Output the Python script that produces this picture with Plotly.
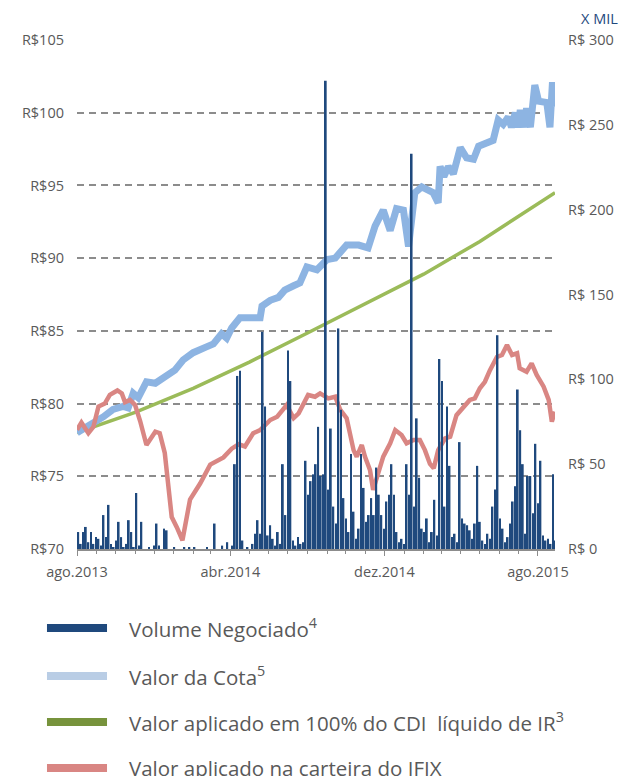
import pandas as pd
import plotly.graph_objects as go

# ---------------- data ----------------
# Volume negociado (R$ mil), one bar every 4 days starting 2013-08-03
volume_start = "2013-08-03"
volume_values = [
    10, 3, 10, 13, 4, 10, 3, 7, 6, 2, 20, 7, 26, 3, 1, 5, 16, 7, 1, 3,
    17, 10, 1, 33, 2, 16, 0, 0, 1, 0, 2, 15, 2, 0, 12, 11, 0, 0, 1, 0,
    0, 0, 1, 0, 1, 0, 1, 0, 0, 0, 0, 1, 0, 0, 15, 0, 0, 2, 0, 4,
    0, 2, 50, 102, 105, 5, 0, 1, 0, 3, 9, 17, 9, 128, 84, 8, 14, 6, 2, 10,
    3, 50, 20, 117, 99, 5, 2, 7, 3, 4, 52, 32, 40, 44, 50, 72, 43, 44, 276, 35,
    71, 25, 15, 130, 82, 30, 18, 10, 56, 22, 6, 12, 56, 36, 16, 20, 30, 20, 48, 32,
    20, 12, 28, 32, 50, 32, 10, 4, 6, 3, 50, 32, 233, 25, 77, 42, 12, 10, 18, 4,
    10, 29, 8, 112, 99, 25, 84, 49, 7, 9, 4, 63, 18, 15, 14, 11, 6, 15, 49, 16,
    5, 3, 9, 6, 25, 35, 126, 18, 12, 4, 7, 15, 28, 37, 94, 70, 50, 9, 43, 43,
    21, 62, 27, 52, 8, 5, 6, 3, 44, 5,
]

cota_dates = [
    "2013-08-01", "2013-08-27", "2013-09-12", "2013-09-27", "2013-10-13", "2013-10-21",
    "2013-10-29", "2013-11-06", "2013-11-19", "2013-12-03", "2013-12-21", "2014-01-03",
    "2014-01-16", "2014-02-01", "2014-02-22", "2014-03-05", "2014-03-18", "2014-03-26",
    "2014-04-03", "2014-04-16", "2014-05-02", "2014-05-18", "2014-05-21", "2014-06-03",
    "2014-06-16", "2014-06-26", "2014-07-10", "2014-07-20", "2014-07-31", "2014-08-16",
    "2014-09-01", "2014-09-14", "2014-10-02", "2014-10-21", "2014-11-05", "2014-11-16",
    "2014-11-29", "2014-12-10", "2014-12-20", "2014-12-31", "2015-01-08", "2015-01-13",
    "2015-01-18", "2015-01-29", "2015-02-08", "2015-02-16", "2015-02-24", "2015-02-27",
    "2015-03-05", "2015-03-12", "2015-03-20", "2015-03-31", "2015-04-10", "2015-04-21",
    "2015-04-29", "2015-05-12", "2015-05-22", "2015-05-30", "2015-06-07", "2015-06-15",
    "2015-06-20", "2015-06-26", "2015-07-01", "2015-07-04", "2015-07-09", "2015-07-14",
    "2015-07-20", "2015-07-27", "2015-08-02", "2015-08-15", "2015-08-20", "2015-08-24",
    "2015-08-27",
]
cota_values = [
    78.0, 78.6, 79.1, 79.6, 79.8, 79.7,
    80.7, 80.4, 81.5, 81.4, 82.0, 82.3,
    83.0, 83.5, 83.9, 84.1, 84.8, 84.5,
    85.2, 85.9, 85.9, 85.9, 86.7, 87.1,
    87.3, 87.8, 88.1, 88.3, 89.4, 89.2,
    89.9, 90.0, 90.9, 90.9, 90.7, 92.2,
    93.3, 91.9, 93.4, 93.3, 90.8, 92.9,
    94.5, 94.9, 94.6, 94.5, 93.8, 96.3,
    95.6, 96.3, 95.8, 97.6, 96.9, 96.8,
    97.7, 98.0, 98.1, 99.5, 99.2, 99.7,
    99.0, 100.0, 99.0, 100.2, 99.0, 100.3,
    99.0, 101.9, 100.8, 100.7, 99.0, 102.1,
    100.4,
]

cdi_dates = ["2013-08-01", "2013-11-01", "2014-02-01", "2014-05-01", "2014-08-01",
             "2014-11-01", "2015-02-01", "2015-05-01", "2015-08-28"]
cdi_values = [78.0, 79.4, 81.05, 82.85, 84.85, 86.85, 88.9, 91.15, 94.5]

ifix_dates = [
    "2013-08-01", "2013-08-08", "2013-08-19", "2013-08-27", "2013-09-04", "2013-09-14",
    "2013-09-22", "2013-10-04", "2013-10-11", "2013-10-16", "2013-10-24", "2013-11-01",
    "2013-11-09", "2013-11-19", "2013-12-03", "2013-12-10", "2013-12-18", "2013-12-29",
    "2014-01-06", "2014-01-15", "2014-01-27", "2014-02-12", "2014-02-28", "2014-03-21",
    "2014-04-03", "2014-04-14", "2014-04-24", "2014-05-02", "2014-05-07", "2014-05-18",
    "2014-06-03", "2014-06-14", "2014-06-29", "2014-07-10", "2014-07-18", "2014-08-02",
    "2014-08-13", "2014-08-21", "2014-09-03", "2014-09-14", "2014-09-22", "2014-10-02",
    "2014-10-13", "2014-10-18", "2014-10-26", "2014-10-31", "2014-11-08", "2014-11-13",
    "2014-11-21", "2014-11-29", "2014-12-10", "2014-12-18", "2014-12-28", "2015-01-05",
    "2015-01-16", "2015-01-26", "2015-02-03", "2015-02-11", "2015-02-17", "2015-02-24",
    "2015-03-07", "2015-03-15", "2015-03-25", "2015-04-05", "2015-04-15", "2015-04-23",
    "2015-05-01", "2015-05-09", "2015-05-17", "2015-05-28", "2015-06-05", "2015-06-13",
    "2015-06-21", "2015-06-29", "2015-07-03", "2015-07-14", "2015-07-22", "2015-07-30",
    "2015-08-10", "2015-08-18", "2015-08-23", "2015-08-28",
]
ifix_values = [
    78.2, 78.7, 77.96, 78.4, 79.8, 80.0,
    80.6, 80.9, 80.7, 80.1, 80.25, 79.9,
    78.8, 77.15, 78.07, 77.96, 76.6, 72.2,
    71.5, 70.6, 73.4, 74.5, 75.8, 76.3,
    76.9, 77.2, 77.05, 77.7, 77.96, 78.18,
    78.87, 79.1, 79.9, 79.0, 79.33, 80.59,
    80.47, 80.7, 80.36, 80.47, 79.56, 79.0,
    76.8, 76.35, 77.15, 76.35, 75.43, 74.06,
    75.2, 76.35, 77.27, 78.18, 77.84, 77.27,
    77.5, 77.5, 76.8, 75.85, 75.55, 76.8,
    77.6, 77.72, 79.2, 79.8, 80.25, 80.36,
    81.05, 81.5, 82.3, 83.2, 83.34, 84.03,
    83.34, 83.46, 82.43, 82.19, 82.77, 81.97,
    81.16, 80.25, 78.76, 79.44,
]

left_ticks = [70, 75, 80, 85, 90, 95, 100, 105]
left_labels = ["R$70", "R$75", "R$80", "R$85", "R$90", "R$95", "R$100", "R$105"]
right_ticks = [0, 50, 100, 150, 200, 250, 300]
right_labels = ["R$ 0", "R$ 50", "R$ 100", "R$ 150", "R$ 200", "R$ 250", "R$ 300"]
x_ticks = ["2013-08-01", "2014-04-01", "2014-12-01", "2015-08-01"]
x_labels = ["ago.2013", "abr.2014", "dez.2014", "ago.2015"]

legend_names = ["Volume Negociado<sup>4</sup>", "Valor da Cota<sup>5</sup>",
                "Valor aplicado em 100% do CDI  líquido de IR<sup>3</sup>",
                "Valor aplicado na carteira do IFIX"]
legend_colors = ["#1F497D", "#B9CDE5", "#77933C", "#D98683"]

# ---------------- figure ----------------
FONT = "Open Sans"
GREY = "#595959"

volume_dates = pd.date_range(volume_start, periods=len(volume_values), freq="4D")

fig = go.Figure()
fig.add_trace(go.Scatter(x=cdi_dates, y=cdi_values, mode="lines",
                         line=dict(color="#9BBB59", width=3.5), yaxis="y",
                         showlegend=False))
fig.add_trace(go.Scatter(x=cota_dates, y=cota_values, mode="lines",
                         line=dict(color="#8DB4E2", width=7), yaxis="y",
                         showlegend=False))
fig.add_trace(go.Scatter(x=ifix_dates, y=ifix_values, mode="lines",
                         line=dict(color="#D98683", width=4.5), yaxis="y",
                         showlegend=False))
fig.add_trace(go.Bar(x=volume_dates, y=volume_values, yaxis="y2",
                     marker=dict(color="#1F497D", line=dict(width=0)),
                     showlegend=False))

fig.update_layout(
    width=622, height=776,
    margin=dict(l=77, r=67, t=40, b=227, autoexpand=False),
    paper_bgcolor="white", plot_bgcolor="white",
    bargap=0.3,
    font=dict(family=FONT, color=GREY, size=14),
    xaxis=dict(
        type="date", range=["2013-08-01", "2015-08-28"],
        tickvals=x_ticks, ticktext=x_labels,
        showgrid=False, zeroline=False,
        showline=True, linecolor="#8C8C8C", linewidth=1.5,
        ticks="outside", ticklen=5, tickcolor="#8C8C8C", tickwidth=1,
        minor=dict(dtick="M1", ticks="outside", ticklen=3, tickcolor="#8C8C8C", showgrid=False),
        tickfont=dict(size=14.5, color=GREY, family=FONT),
        ticklabelstandoff=4,
    ),
    yaxis=dict(
        range=[70, 105], tickvals=left_ticks, ticktext=left_labels,
        showgrid=True, gridcolor="#8C8C8C", gridwidth=1.5, griddash="7px,5px",
        zeroline=False, showline=False, ticks="",
        tickfont=dict(size=14.5, color=GREY, family=FONT),
        ticklabelstandoff=12,
    ),
    yaxis2=dict(
        range=[0, 300], tickvals=right_ticks, ticktext=right_labels,
        overlaying="y", side="right", showgrid=False, zeroline=False,
        showline=False, ticks="",
        tickfont=dict(size=14.5, color=GREY, family=FONT),
        ticklabelstandoff=12,
    ),
)

# "X MIL" unit label
fig.add_annotation(text="X MIL", xref="paper", yref="paper", x=1.136, y=1.043,
                   showarrow=False, xanchor="right", yanchor="middle",
                   font=dict(size=14.5, color="#1F497D", family=FONT))

# custom legend below the chart
legend_y = [-0.1552, -0.2495, -0.3399, -0.4303]
for name, color, yc in zip(legend_names, legend_colors, legend_y):
    fig.add_shape(type="rect", xref="paper", yref="paper",
                  x0=-0.0628, x1=0.0628, y0=yc - 0.0079, y1=yc + 0.0079,
                  fillcolor=color, line=dict(width=0))
    fig.add_annotation(text=name, xref="paper", yref="paper", x=0.1046, y=yc,
                       showarrow=False, xanchor="left", yanchor="middle",
                       font=dict(size=20.5, color=GREY, family=FONT))

fig.write_html("out.html", config={"displayModeBar": False})

# remove the default page margin so the figure sits at the window's top-left
with open("out.html", "r", encoding="utf-8") as f:
    html = f.read()
html = html.replace("<head>", "<head><style>html,body{margin:0;padding:0;overflow:hidden;}</style>", 1)
with open("out.html", "w", encoding="utf-8") as f:
    f.write(html)
